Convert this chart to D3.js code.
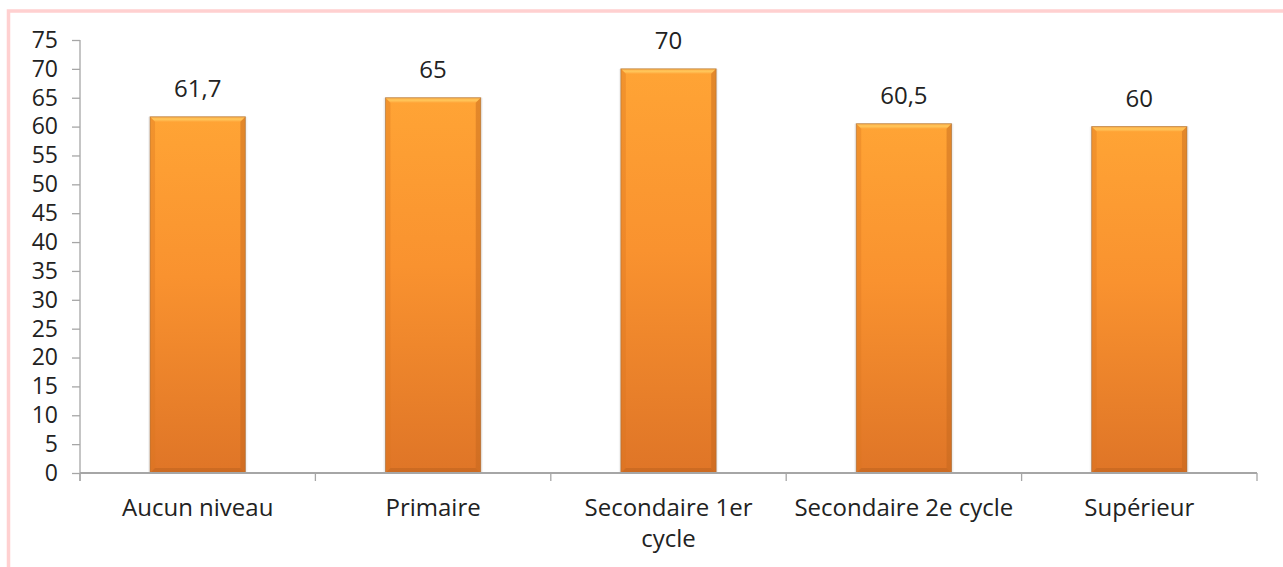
<!DOCTYPE html>
<html>
<head>
<meta charset="utf-8">
<script src="https://cdn.jsdelivr.net/npm/d3@7"></script>
<style>
  html, body { margin: 0; padding: 0; background: #fff; overflow: hidden; }
  svg { display: block; }
  text { font-family: "Open Sans", sans-serif; fill: #222; }
</style>
</head>
<body>
<svg id="chart" width="1283" height="567"></svg>
<script>
// ---- data ----
const categories = ["Aucun niveau", "Primaire", "Secondaire 1er cycle", "Secondaire 2e cycle", "Supérieur"];
const categoryLines = [["Aucun niveau"], ["Primaire"], ["Secondaire 1er", "cycle"], ["Secondaire 2e cycle"], ["Supérieur"]];
const values = [61.7, 65, 70, 60.5, 60];
const yTicks = [0, 5, 10, 15, 20, 25, 30, 35, 40, 45, 50, 55, 60, 65, 70, 75];

(function () {
const svg = d3.select("#chart");
const W = 1283, H = 567;
const mLeft = 80, mRight = 1257, mTop = 40, mBottom = 473;

// frame
svg.append("rect").attr("x", 8.5).attr("y", 11).attr("width", W + 20).attr("height", H + 20)
  .attr("fill", "none").attr("stroke", "#ffd0d0").attr("stroke-width", 3.5);

const x = d3.scaleBand().domain(categories).range([mLeft, mRight]).paddingInner(0.595).paddingOuter(0.2975);
const y = d3.scaleLinear().domain([0, 75]).range([mBottom, mTop]);

const locale = d3.formatLocale({decimal: ",", thousands: " ", grouping: [3], currency: ["", "€"]});
const fmt = locale.format("~g");

// gradients
const defs = svg.append("defs");
const g1 = defs.append("linearGradient").attr("id", "barGrad").attr("x1", 0).attr("y1", 0).attr("x2", 0).attr("y2", 1);
g1.append("stop").attr("offset", "0%").attr("stop-color", "#ffa435");
g1.append("stop").attr("offset", "45%").attr("stop-color", "#f9922f");
g1.append("stop").attr("offset", "100%").attr("stop-color", "#df7527");
const gTop = defs.append("linearGradient").attr("id", "topGrad").attr("x1", 0).attr("y1", 0).attr("x2", 0).attr("y2", 1);
gTop.append("stop").attr("offset", "0%").attr("stop-color", "#ffb048");
gTop.append("stop").attr("offset", "50%").attr("stop-color", "#ffc65a");
gTop.append("stop").attr("offset", "100%").attr("stop-color", "#ffa83c");

// axes
const axisColor = "#a6a6a6";
const yAxis = d3.axisLeft(y).tickValues(yTicks).tickSize(8).tickSizeOuter(0).tickPadding(14).tickFormat(d3.format("d"));
const ya = svg.append("g").attr("transform", `translate(${mLeft},0)`).call(yAxis);
ya.select(".domain").remove();
ya.selectAll(".tick line").attr("stroke", axisColor).attr("stroke-width", 1.3);
ya.selectAll(".tick text").style("font-size", "23px").style("font-family", "'Open Sans', sans-serif").attr("fill", "#222");
svg.append("line").attr("x1", mLeft).attr("x2", mLeft).attr("y1", y(75)).attr("y2", y(0) + 8)
  .attr("stroke", axisColor).attr("stroke-width", 1.3);

// bars
const bars = svg.append("g");
const b = 5;
categories.forEach((c, i) => {
  const x0 = x(c), x1 = x(c) + x.bandwidth();
  const t = y(values[i]), bt = y(0);
  const g = bars.append("g");
  g.append("rect").attr("x", x0 - 2).attr("y", t).attr("width", x1 - x0 + 4).attr("height", bt - t)
    .attr("fill", "#000").attr("opacity", 0.05);
  g.append("rect").attr("x", x0).attr("y", t).attr("width", x1 - x0).attr("height", bt - t)
    .attr("fill", "url(#barGrad)");
  g.append("polygon").attr("points", [[x0, t], [x1, t], [x1 - b, t + b], [x0 + b, t + b]].map(p => p.join(",")).join(" "))
    .attr("fill", "url(#topGrad)");
  g.append("polygon").attr("points", [[x0, t], [x0 + b, t + b], [x0 + b, bt - b], [x0, bt]].map(p => p.join(",")).join(" "))
    .attr("fill", "#d97520").attr("opacity", 0.35);
  g.append("polygon").attr("points", [[x1, t], [x1 - b, t + b], [x1 - b, bt - b], [x1, bt]].map(p => p.join(",")).join(" "))
    .attr("fill", "#c2661c").attr("opacity", 0.45);
  g.append("polygon").attr("points", [[x0, bt], [x0 + b, bt - b], [x1 - b, bt - b], [x1, bt]].map(p => p.join(",")).join(" "))
    .attr("fill", "#b55f1c").attr("opacity", 0.45);
  g.append("rect").attr("x", x0).attr("y", t).attr("width", x1 - x0).attr("height", bt - t)
    .attr("fill", "none").attr("stroke", "#9a6a3a").attr("stroke-opacity", 0.55).attr("stroke-width", 1);
  g.append("text").attr("x", (x0 + x1) / 2).attr("y", t - 20).attr("text-anchor", "middle")
    .style("font-size", "24px").text(fmt(values[i]));
});

// x axis
svg.append("line").attr("x1", mLeft).attr("x2", mRight).attr("y1", y(0)).attr("y2", y(0))
  .attr("stroke", axisColor).attr("stroke-width", 2);
const bounds = d3.range(categories.length + 1).map(k => mLeft + k * x.step());
svg.append("g").selectAll("line").data(bounds).join("line")
  .attr("x1", d => d).attr("x2", d => d).attr("y1", y(0)).attr("y2", y(0) + 8)
  .attr("stroke", axisColor).attr("stroke-width", 1.3);

// x labels
categories.forEach((c, i) => {
  const cx = x(c) + x.bandwidth() / 2;
  const tx = svg.append("text").attr("text-anchor", "middle").style("font-size", "24px");
  categoryLines[i].forEach((ln, j) => {
    tx.append("tspan").attr("x", cx).attr("y", 516 + j * 31).text(ln);
  });
});
})();
</script>
</body>
</html>
